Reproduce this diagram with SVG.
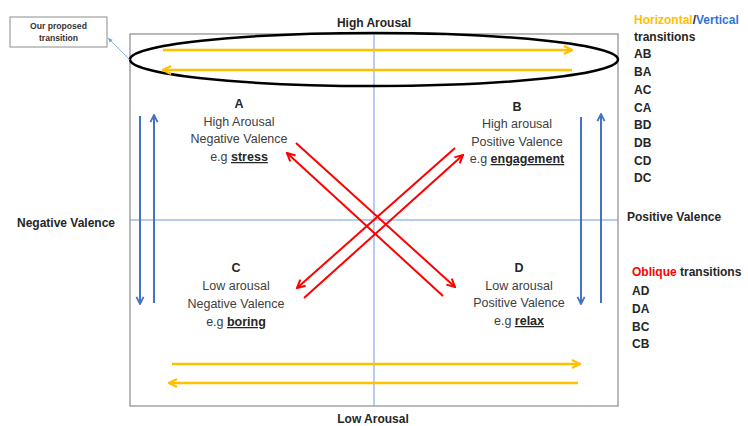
<svg xmlns="http://www.w3.org/2000/svg" width="748" height="426" viewBox="0 0 748 426">
<defs>
<style>
text{font-family:"Liberation Sans",Arial,sans-serif}
.ax{font-size:12px;font-weight:bold;fill:#262626}
.lg{font-size:12px;font-weight:bold;fill:#262626}
.nd{font-size:12.5px;fill:#404040;text-anchor:middle}
.nl{font-weight:bold;fill:#262626}
.ex{font-weight:bold;fill:#262626;text-decoration:underline}
.or{stroke:#FFC000;stroke-width:2.5;fill:none}
.bl{stroke:#4472C4;stroke-width:2;fill:none}
.rd{stroke:#FF0000;stroke-width:2;fill:none}
.axis{stroke:#6F9BE0;stroke-width:1;fill:none}
</style>
<marker id="mo" viewBox="0 0 10 10" refX="9" refY="5" markerWidth="10" markerHeight="11" markerUnits="userSpaceOnUse" orient="auto"><path d="M1,1 L9,5 L1,9" fill="none" stroke="#FFC000" stroke-width="2.2"/></marker>
<marker id="mb" viewBox="0 0 10 10" refX="9" refY="5" markerWidth="9" markerHeight="10" markerUnits="userSpaceOnUse" orient="auto"><path d="M1,1 L9,5 L1,9" fill="none" stroke="#4472C4" stroke-width="2"/></marker>
<marker id="mr" viewBox="0 0 10 10" refX="9" refY="5" markerWidth="10" markerHeight="11" markerUnits="userSpaceOnUse" orient="auto"><path d="M1,1 L9,5 L1,9" fill="none" stroke="#FF0000" stroke-width="2"/></marker>
<marker id="mc" viewBox="0 0 10 10" refX="9" refY="5" markerWidth="5" markerHeight="5" markerUnits="userSpaceOnUse" orient="auto"><path d="M0,1 L9,5 L0,9 Z" fill="#6F9BE0"/></marker>
</defs>
<rect width="748" height="426" fill="#fff"/>
<g id="frame">
<rect x="130" y="34" width="488" height="372" fill="none" stroke="#8c8c8c" stroke-width="1.2"/>
<line class="axis" x1="374" y1="34" x2="374" y2="406"/>
<line class="axis" x1="130" y1="220" x2="618" y2="220"/>
</g>
<g id="axis-labels">
<text class="ax" x="374" y="27" text-anchor="middle">High Arousal</text>
<text class="ax" x="373" y="423" text-anchor="middle">Low Arousal</text>
<text class="ax" x="66" y="227" text-anchor="middle">Negative Valence</text>
<text class="ax" x="627" y="221">Positive Valence</text>
</g>
<g id="highlight">
<ellipse cx="374" cy="59.5" rx="244" ry="26.5" fill="none" stroke="#000" stroke-width="2.5"/>
</g>
<g id="callout">
<rect x="10" y="17" width="97" height="30" fill="#fff" stroke="#8c8c8c" stroke-width="1"/>
<text x="58.5" y="29" text-anchor="middle" font-size="8.6" font-weight="bold" fill="#333">Our proposed</text>
<text x="58.5" y="40.5" text-anchor="middle" font-size="8.6" font-weight="bold" fill="#333">transition</text>
</g>
<g id="A">
<text class="nd" x="239" y="108"><tspan class="nl">A</tspan></text>
<text class="nd" x="239" y="126">High Arousal</text>
<text class="nd" x="239" y="143">Negative Valence</text>
<text class="nd" x="239" y="161">e.g <tspan class="ex">stress</tspan></text>
</g>
<g id="B">
<text class="nd" x="517" y="111"><tspan class="nl">B</tspan></text>
<text class="nd" x="517" y="128">High arousal</text>
<text class="nd" x="517" y="146">Positive Valence</text>
<text class="nd" x="517" y="163">e.g <tspan class="ex">engagement</tspan></text>
</g>
<g id="C">
<text class="nd" x="236" y="272"><tspan class="nl">C</tspan></text>
<text class="nd" x="236" y="290">Low arousal</text>
<text class="nd" x="236" y="308">Negative Valence</text>
<text class="nd" x="236" y="326">e.g <tspan class="ex">boring</tspan></text>
</g>
<g id="D">
<text class="nd" x="519" y="272"><tspan class="nl">D</tspan></text>
<text class="nd" x="519" y="290">Low arousal</text>
<text class="nd" x="519" y="307">Positive Valence</text>
<text class="nd" x="519" y="325">e.g <tspan class="ex">relax</tspan></text>
</g>
<g id="legend">
<text class="lg" x="634" y="24"><tspan fill="#FFC000">Horizontal</tspan>/<tspan fill="#2E75D6">Vertical</tspan></text>
<text class="lg" x="634" y="41">transitions</text>
<text class="lg" x="634" y="58">AB</text>
<text class="lg" x="634" y="76">BA</text>
<text class="lg" x="634" y="94">AC</text>
<text class="lg" x="634" y="112">CA</text>
<text class="lg" x="634" y="129">BD</text>
<text class="lg" x="634" y="147">DB</text>
<text class="lg" x="634" y="165">CD</text>
<text class="lg" x="634" y="182">DC</text>
<text class="lg" x="632" y="276"><tspan fill="#FF0000">Oblique</tspan> transitions</text>
<text class="lg" x="632" y="295">AD</text>
<text class="lg" x="632" y="313">DA</text>
<text class="lg" x="632" y="331">BC</text>
<text class="lg" x="632" y="348">CB</text>
</g>
<g id="connectors">
<line x1="130" y1="60" x2="108" y2="38" stroke="#6F9BE0" stroke-width="0.8" marker-end="url(#mc)"/>
<line class="or" x1="163" y1="50" x2="572" y2="50" marker-end="url(#mo)"/>
<line class="or" x1="572" y1="70" x2="163" y2="70" marker-end="url(#mo)"/>
<line class="or" x1="172" y1="364" x2="580" y2="364" marker-end="url(#mo)"/>
<line class="or" x1="578" y1="383" x2="169" y2="383" marker-end="url(#mo)"/>
<line class="bl" x1="140" y1="116" x2="140" y2="304" marker-end="url(#mb)"/>
<line class="bl" x1="154" y1="303" x2="154" y2="115" marker-end="url(#mb)"/>
<line class="bl" x1="581" y1="117" x2="581" y2="304" marker-end="url(#mb)"/>
<line class="bl" x1="601" y1="303" x2="601" y2="114" marker-end="url(#mb)"/>
<line class="rd" x1="443" y1="296" x2="287" y2="153" marker-end="url(#mr)"/>
<line class="rd" x1="296" y1="143" x2="455" y2="287" marker-end="url(#mr)"/>
<line class="rd" x1="304" y1="298" x2="463" y2="155" marker-end="url(#mr)"/>
<line class="rd" x1="455" y1="148" x2="297" y2="288" marker-end="url(#mr)"/>
</g>
</svg>
